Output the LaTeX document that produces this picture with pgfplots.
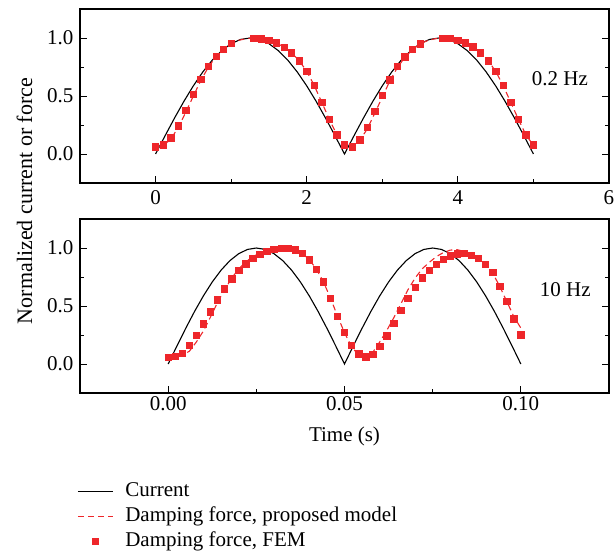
\documentclass[border=0pt]{standalone}
\usepackage{pgfplots}
\pgfplotsset{compat=1.18}
\usepackage{fontspec}
\setmainfont{Liberation Serif}
\definecolor{fred}{RGB}{238,38,42}
\pgfplotsset{
  myaxis/.style={
    scale only axis, width=529pt, height=174pt,
    axis line style={line width=1.2pt},
    tick align=inside, xtick pos=bottom, ytick pos=both,
    major tick length=7pt, minor tick length=4pt,
    every tick/.style={black, line width=1pt},
    ymin=-0.25, ymax=1.25, ytick={0,0.5,1}, minor ytick={0.25,0.75},
    yticklabel style={xshift=-3pt, /pgf/number format/.cd, fixed, fixed zerofill, precision=1},
    /pgf/number format/assume math mode=true,
    scaled ticks=false,
  },
  linelegend/.style={legend image code/.code={\draw[##1] (0pt,0pt) -- (35pt,0pt);}},
  marklegend/.style={legend image code/.code={\path[draw=none,fill=none] (0pt,0pt) -- (35pt,0pt); \draw[##1] plot coordinates {(17.5pt,0pt)};}},
  cur/.style={black, line width=1.1pt, linelegend},
  model/.style={fred, line width=1.1pt, dash pattern=on 6pt off 4pt, linelegend},
  fem/.style={only marks, mark=square*, mark size=3.2pt, fred, mark options={fill=fred, draw=fred, line width=0.6pt}, marklegend},
}
\begin{document}
\begin{tikzpicture}[font=\fontsize{21}{25}\selectfont]
\path[use as bounding box] (0,0) rectangle (614pt,-560pt);
% ---------------- top panel (0.2 Hz) ----------------
\begin{axis}[myaxis, at={(80pt,-9pt)}, anchor=north west,
  xmin=-1, xmax=6, xtick={0,2,4,6}, minor xtick={1,3,5},
  xticklabel style={yshift=-4pt},
  ylabel={Normalized current or force},
  ylabel style={at={(axis description cs:-0.0907,-0.1034)}, anchor=base, font=\fontsize{22}{26}\selectfont},
]
\addplot[cur] coordinates {(0,0) (0.125,0.1564) (0.25,0.3090) (0.375,0.4540) (0.5,0.5878) (0.625,0.7071) (0.75,0.8090) (0.875,0.8910) (1,0.9511) (1.125,0.9877) (1.25,1) (1.375,0.9877) (1.5,0.9511) (1.625,0.8910) (1.75,0.8090) (1.875,0.7071) (2,0.5878) (2.125,0.4540) (2.25,0.3090) (2.375,0.1564) (2.5,0) (2.625,0.1564) (2.75,0.3090) (2.875,0.4540) (3,0.5878) (3.125,0.7071) (3.25,0.8090) (3.375,0.8910) (3.5,0.9511) (3.625,0.9877) (3.75,1) (3.875,0.9877) (4,0.9511) (4.125,0.8910) (4.25,0.8090) (4.375,0.7071) (4.5,0.5878) (4.625,0.4540) (4.75,0.3090) (4.875,0.1564) (5,0)};
\addplot[model] coordinates {(0,0.06) (0.1,0.075) (0.2,0.125) (0.3,0.23) (0.4,0.36) (0.5,0.5) (0.6,0.635) (0.7,0.75) (0.8,0.84) (0.9,0.905) (1.0,0.952) (1.1,0.98) (1.2,0.995) (1.3,1.0) (1.4,0.994) (1.5,0.98) (1.6,0.957) (1.7,0.922) (1.8,0.873) (1.9,0.804) (2.0,0.714) (2.1,0.59) (2.2,0.445) (2.3,0.298) (2.4,0.165) (2.5,0.075) (2.55,0.055) (2.6,0.062) (2.7,0.115) (2.8,0.215) (2.9,0.35) (3.0,0.49) (3.1,0.63) (3.2,0.745) (3.3,0.835) (3.4,0.9) (3.5,0.95) (3.6,0.978) (3.7,0.994) (3.8,1.0) (3.9,0.995) (4.0,0.98) (4.1,0.957) (4.2,0.925) (4.3,0.873) (4.4,0.804) (4.5,0.714) (4.6,0.59) (4.7,0.445) (4.8,0.301) (4.9,0.165) (5.0,0.075)};
\addplot[fem] coordinates {(0,0.063) (0.1,0.078) (0.2,0.139) (0.3,0.243) (0.4,0.376) (0.5,0.515) (0.6,0.642) (0.7,0.755) (0.8,0.841) (0.9,0.905) (1.0,0.954) (1.3,1.0) (1.4,0.994) (1.5,0.98) (1.6,0.957) (1.7,0.922) (1.8,0.873) (1.9,0.804) (2.0,0.714) (2.1,0.59) (2.2,0.445) (2.3,0.298) (2.4,0.165) (2.5,0.078) (2.6,0.063) (2.7,0.121) (2.8,0.228) (2.9,0.367) (3.0,0.506) (3.1,0.639) (3.2,0.755) (3.3,0.838) (3.4,0.902) (3.5,0.951) (3.8,1.0) (3.9,0.995) (4.0,0.98) (4.1,0.957) (4.2,0.925) (4.3,0.873) (4.4,0.804) (4.5,0.714) (4.6,0.59) (4.7,0.445) (4.8,0.301) (4.9,0.165) (5.0,0.078)};
\node[anchor=base] at (axis cs:5.35,0.59) {0.2 Hz};
\end{axis}
% ---------------- bottom panel (10 Hz) ----------------
\begin{axis}[myaxis, at={(80pt,-219pt)}, anchor=north west,
  xmin=-0.025, xmax=0.125, xtick={0,0.05,0.1}, minor xtick={0.025,0.075},
  xticklabel style={/pgf/number format/.cd, fixed, fixed zerofill, precision=2},
  xlabel={Time (s)},
  xlabel style={at={(axis description cs:0.5,-0.276)}, anchor=base},
  legend cell align=left,
  legend style={draw=none, fill=none, at={(axis description cs:-0.0113,-0.5)}, anchor=north west,
    nodes={inner sep=0pt, text height=14pt, text depth=4pt}, row sep=7pt,
    /tikz/every odd column/.append style={column sep=12pt}},
]
\addplot[cur] coordinates {(0,0) (0.0025,0.1564) (0.005,0.3090) (0.0075,0.4540) (0.01,0.5878) (0.0125,0.7071) (0.015,0.8090) (0.0175,0.8910) (0.02,0.9511) (0.0225,0.9877) (0.025,1) (0.0275,0.9877) (0.03,0.9511) (0.0325,0.8910) (0.035,0.8090) (0.0375,0.7071) (0.04,0.5878) (0.0425,0.4540) (0.045,0.3090) (0.0475,0.1564) (0.05,0) (0.0525,0.1564) (0.055,0.3090) (0.0575,0.4540) (0.06,0.5878) (0.0625,0.7071) (0.065,0.8090) (0.0675,0.8910) (0.07,0.9511) (0.0725,0.9877) (0.075,1) (0.0775,0.9877) (0.08,0.9511) (0.0825,0.8910) (0.085,0.8090) (0.0875,0.7071) (0.09,0.5878) (0.0925,0.4540) (0.095,0.3090) (0.0975,0.1564) (0.1,0)};
\addlegendentry{Current}
\addplot[model] coordinates {(0,0.06) (0.002,0.062) (0.004,0.075) (0.006,0.11) (0.008,0.19) (0.010,0.285) (0.012,0.405) (0.014,0.53) (0.016,0.64) (0.018,0.74) (0.020,0.82) (0.022,0.88) (0.024,0.925) (0.026,0.957) (0.028,0.98) (0.030,0.993) (0.032,1.0) (0.034,0.997) (0.036,0.982) (0.038,0.954) (0.040,0.9) (0.042,0.82) (0.044,0.71) (0.046,0.57) (0.048,0.415) (0.050,0.27) (0.052,0.15) (0.054,0.075) (0.056,0.062) (0.058,0.1) (0.060,0.19) (0.062,0.29) (0.064,0.40) (0.066,0.52) (0.068,0.64) (0.070,0.74) (0.072,0.82) (0.074,0.875) (0.076,0.925) (0.078,0.96) (0.080,0.982) (0.082,0.985) (0.084,0.97) (0.086,0.945) (0.088,0.91) (0.090,0.86) (0.092,0.785) (0.094,0.67) (0.096,0.54) (0.098,0.41) (0.100,0.31)};
\addlegendentry{Damping force, proposed model}
\addplot[fem] coordinates {(0.000,0.058) (0.002,0.064) (0.004,0.093) (0.006,0.16) (0.008,0.246) (0.010,0.345) (0.012,0.449) (0.014,0.553) (0.016,0.649) (0.018,0.733) (0.020,0.806) (0.022,0.864) (0.024,0.91) (0.026,0.948) (0.028,0.974) (0.030,0.991) (0.032,1.0) (0.034,0.997) (0.036,0.983) (0.038,0.954) (0.040,0.899) (0.042,0.817) (0.044,0.707) (0.046,0.565) (0.048,0.411) (0.050,0.275) (0.052,0.162) (0.054,0.087) (0.056,0.061) (0.058,0.084) (0.060,0.154) (0.062,0.243) (0.064,0.35) (0.066,0.463) (0.068,0.568) (0.070,0.661) (0.072,0.742) (0.074,0.806) (0.076,0.858) (0.078,0.901) (0.080,0.933) (0.082,0.95) (0.084,0.954) (0.086,0.939) (0.088,0.91) (0.090,0.861) (0.092,0.788) (0.094,0.672) (0.096,0.542) (0.098,0.391) (0.100,0.252)};
\addlegendentry{Damping force, FEM}
\node[anchor=base] at (axis cs:0.1126,0.585) {10 Hz};
\end{axis}
\end{tikzpicture}
\end{document}
